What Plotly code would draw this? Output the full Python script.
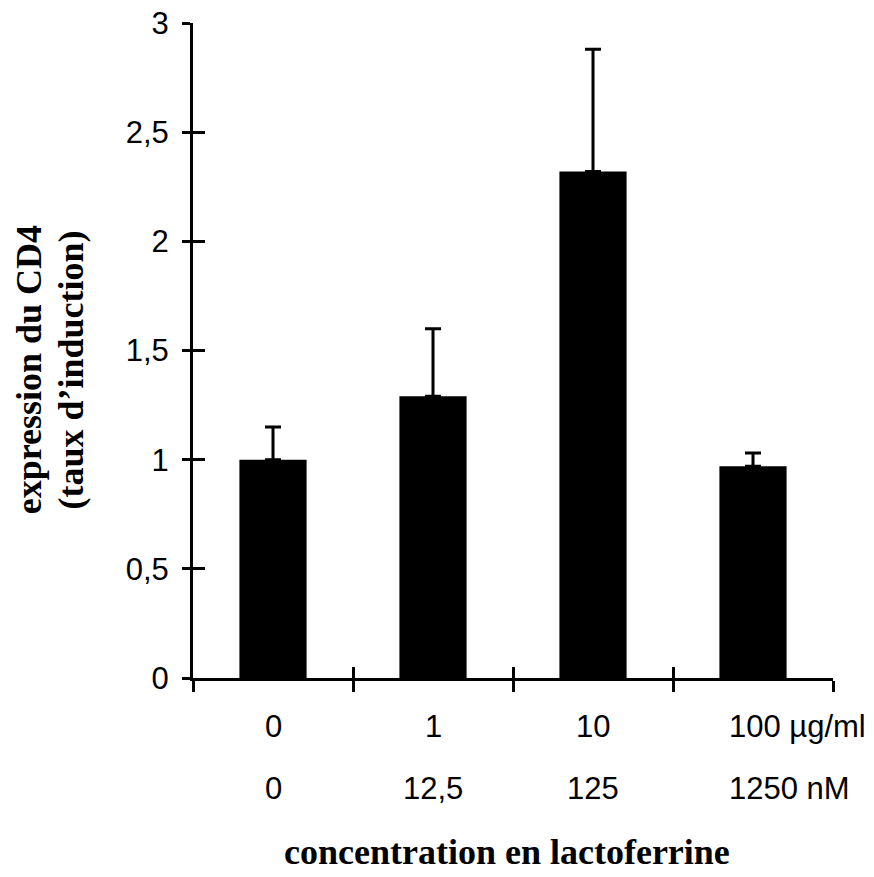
import plotly.graph_objects as go

# ---- data ----
categories = ["0", "1", "10", "100"]
conc_ug = ["0", "1", "10", "100 µg/ml"]
conc_nm = ["0", "12,5", "125", "1250 nM"]
values = [1.00, 1.29, 2.32, 0.97]
err_plus = [0.15, 0.31, 0.56, 0.06]
y_tickvals = [0, 0.5, 1, 1.5, 2, 2.5, 3]
y_ticktext = ["0", "0,5", "1", "1,5", "2", "2,5", "3"]

pos = list(range(len(categories)))
bounds = [p - 0.5 for p in pos] + [pos[-1] + 0.5]

SANS = "Liberation Sans, Arial, sans-serif"
SERIF = "Liberation Serif, Times New Roman, serif"

fig = go.Figure()
fig.add_trace(go.Bar(
    x=pos, y=values, width=0.42,
    marker=dict(color="black", line=dict(width=0)),
    error_y=dict(type="data", symmetric=False, array=err_plus,
                 arrayminus=[0] * len(values),
                 color="black", thickness=3, width=8),
    showlegend=False, hoverinfo="skip",
))
# helper (invisible) trace so overlay axes render their crossing ticks
fig.add_trace(go.Scatter(x=pos, y=values, mode="none", xaxis="x2", yaxis="y2",
                         showlegend=False, hoverinfo="skip"))

x_range = [bounds[0], bounds[-1]]
y_range = [0, 3.0001]

fig.update_layout(
    width=874, height=877,
    margin=dict(l=185, r=49, t=15, b=207, autoexpand=False),
    paper_bgcolor="white", plot_bgcolor="white",
    xaxis=dict(range=x_range, tickvals=bounds, ticktext=[""] * len(bounds),
               ticks="outside", ticklen=11, tickwidth=2.5, tickcolor="black",
               showline=True, linewidth=3, linecolor="black", automargin=False,
               showgrid=False, zeroline=False, fixedrange=True),
    xaxis2=dict(range=x_range, overlaying="x", anchor="y", side="bottom",
                tickvals=bounds, showticklabels=False, automargin=False,
                ticks="inside", ticklen=11, tickwidth=2.5, tickcolor="black",
                showline=False, showgrid=False, zeroline=False),
    yaxis=dict(range=y_range, tickvals=y_tickvals, ticktext=y_ticktext,
               ticks="outside", ticklen=8, tickwidth=2.5, tickcolor="black",
               ticklabelstandoff=7, ticklabeloverflow="allow", automargin=False,
               tickfont=dict(family=SANS, size=31, color="black"),
               showline=True, linewidth=3, linecolor="black",
               showgrid=False, zeroline=False),
    yaxis2=dict(range=y_range, overlaying="y", anchor="x", side="left",
                tickvals=y_tickvals, showticklabels=False, automargin=False,
                ticks="inside", ticklen=12, tickwidth=2.5, tickcolor="black",
                showline=False, showgrid=False, zeroline=False),
)

annotations = []
for i, (a, b) in enumerate(zip(conc_ug, conc_nm)):
    last = i == len(categories) - 1
    xa = pos[i] - 0.16 if last else pos[i]
    anchor = "left" if last else "center"
    annotations.append(dict(x=xa, y=-0.0733, xref="x", yref="paper", text=a,
                            showarrow=False, xanchor=anchor, yanchor="middle",
                            font=dict(family=SANS, size=31, color="black")))
    annotations.append(dict(x=xa, y=-0.168, xref="x", yref="paper", text=b,
                            showarrow=False, xanchor=anchor, yanchor="middle",
                            font=dict(family=SANS, size=31, color="black")))

annotations.append(dict(x=0.49, y=-0.265, xref="paper", yref="paper",
                        text="<b>concentration en lactoferrine</b>", showarrow=False,
                        xanchor="center", yanchor="middle",
                        font=dict(family=SERIF, size=36, color="black")))
annotations.append(dict(x=-0.256, y=0.47, xref="paper", yref="paper",
                        text="<b>expression du CD4</b>", showarrow=False, textangle=-90,
                        xanchor="center", yanchor="middle",
                        font=dict(family=SERIF, size=36, color="black")))
annotations.append(dict(x=-0.19, y=0.47, xref="paper", yref="paper",
                        text="<b>(taux d’induction)</b>", showarrow=False, textangle=-90,
                        xanchor="center", yanchor="middle",
                        font=dict(family=SERIF, size=36, color="black")))
fig.update_layout(annotations=annotations)

fig.write_html("out.html")
